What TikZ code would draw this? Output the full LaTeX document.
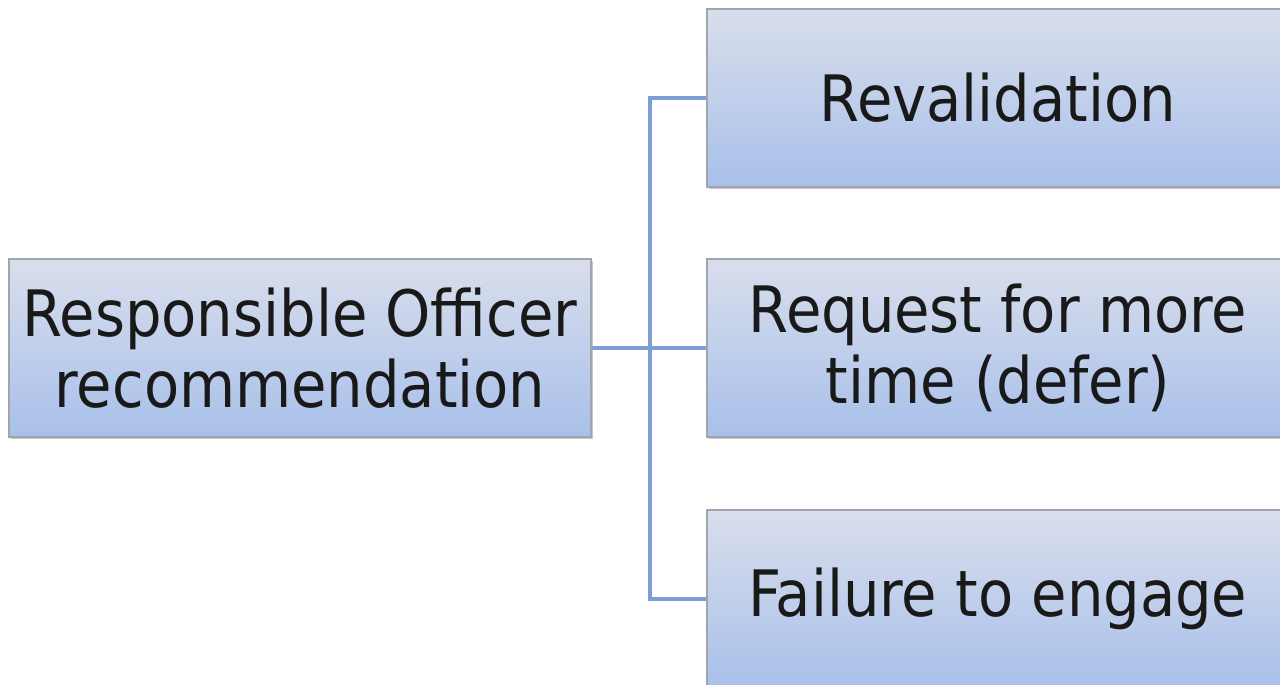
\documentclass[tikz,border=0pt]{standalone}
\usepackage{fontspec}
\setmainfont{DejaVu Sans Condensed}
\definecolor{boxtop}{RGB}{217,222,236}
\definecolor{boxbot}{RGB}{168,192,234}
\definecolor{boxline}{RGB}{160,164,172}
\definecolor{link}{RGB}{126,158,214}
\tikzset{
  pill/.style={rectangle, minimum width=582pt, minimum height=178pt,
    top color=boxtop, bottom color=boxbot, draw=boxline, line width=1.2pt,
    align=center, font=\fontsize{64}{71}\selectfont, inner sep=0pt,
    text=black!90},
  shade/.style={fill=black!22},
  linkline/.style={draw=link, line width=4pt}
}
\begin{document}
\begin{tikzpicture}[x=1pt, y=-1pt]
  \clip (0,0) rectangle (1280,685);
  \fill[white] (0,0) rectangle (1280,685);
  % soft shadows under the boxes
  \foreach \cx/\cy in {300/348, 998/98, 998/348, 998/599}
    \fill[shade] (\cx-289,\cy-87) rectangle (\cx+293,\cy+91);
  % boxes
  \node[pill] (ro)  at (300,348) {Responsible Officer\\recommendation};
  \node[pill] (rev) at (998,98)  {Revalidation};
  \node[pill] (req) at (998,348) {Request for more\\time (defer)};
  \node[pill] (fail) at (998,599) {Failure to engage};
  % connectors
  \coordinate (trunk) at (650,348);
  \draw[linkline] (ro.east) -- (req.west);
  \draw[linkline, line cap=rect] (trunk |- rev.west) -- (trunk |- fail.west);
  \draw[linkline] (trunk |- rev.west) -- (rev.west);
  \draw[linkline] (trunk |- fail.west) -- (fail.west);
\end{tikzpicture}
\end{document}
